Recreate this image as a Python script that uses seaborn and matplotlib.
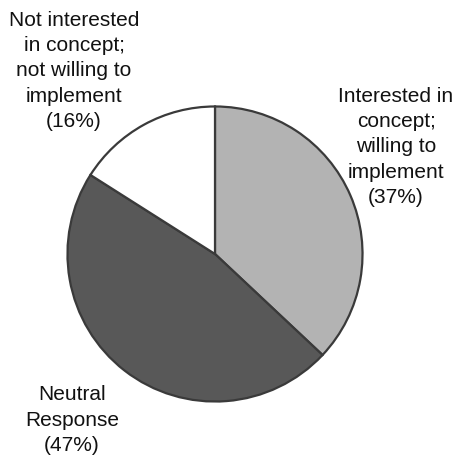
import matplotlib
matplotlib.use("Agg")
import matplotlib.pyplot as plt
import seaborn as sns

sns.set_style("white")
plt.rcParams['font.family'] = ['Liberation Sans', 'DejaVu Sans']

categories = ["Interested in\nconcept;\nwilling to\nimplement",
              "Neutral\nResponse",
              "Not interested\nin concept;\nnot willing to\nimplement"]
values = [37, 47, 16]
colors = ["#b3b3b3", "#585858", "#ffffff"]

fig = plt.figure(figsize=(4.61, 4.59), dpi=100)
W, H = 461, 459
cx, cy, r = 215, 254, 149
ax = fig.add_axes([(cx - r) / W, (H - cy - r) / H, 2 * r / W, 2 * r / H])
ax.pie(values, colors=colors, startangle=90, counterclock=False, radius=1,
       wedgeprops=dict(edgecolor="#3a3a3a", linewidth=1.6))
ax.set_xlim(-1.01, 1.01)
ax.set_ylim(-1.01, 1.01)
ax.set_aspect("equal")
ax.axis("off")

label_pos = [(396, 147), (72, 420), (74, 71)]
for cat, v, (x, y) in zip(categories, values, label_pos):
    fig.text(x / W, 1 - y / H, f"{cat}\n({v}%)", ha="center", va="center",
             multialignment="center", fontsize=15, linespacing=1.42, color="#111111")

fig.savefig("out.png", dpi=100, facecolor="white")
